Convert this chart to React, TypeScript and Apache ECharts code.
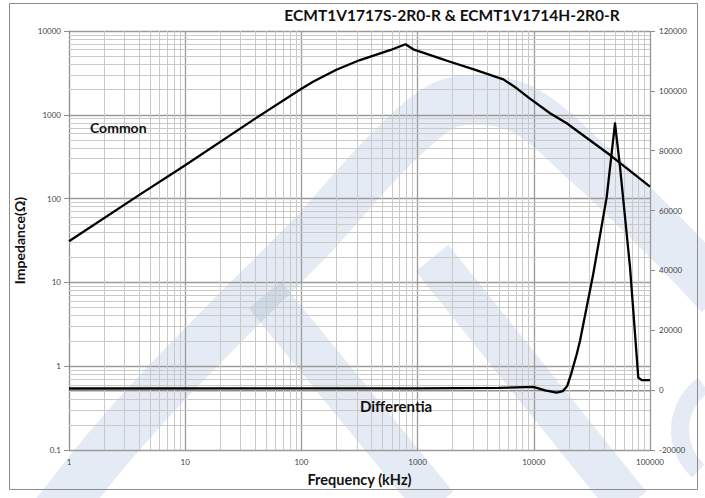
import React, { useEffect, useRef } from "react";
import * as echarts from "echarts";

// Frequency (kHz) and impedance
const commonFreq = [1, 4, 10, 40, 100, 127, 200, 319, 578, 787, 918, 1560, 1900, 3000, 5470, 7130, 9270, 13800, 19200, 45300, 100000];
const commonImp = [31, 110, 250, 900, 2050, 2500, 3450, 4500, 5900, 6940, 6050, 4720, 4300, 3500, 2650, 2070, 1560, 1042, 792, 331, 139];

const diffFreq = [1, 100, 1000, 5000, 9900, 12500, 15700, 17800, 19400, 21000, 23400, 25000, 28500, 32500, 42400, 50000, 55200, 67300, 79300, 84900, 100000];
const diffImp = [550, 560, 600, 750, 1100, -100, -800, -300, 1400, 5500, 12000, 16500, 27700, 38900, 64500, 89100, 74600, 41100, 4200, 3350, 3350];

const decadesX = [1, 10, 100, 1000, 10000];
const decadesY = [0.1, 1, 10, 100, 1000];
const minorSteps = [2, 3, 4, 5, 6, 7, 8, 9];

const title = "ECMT1V1717S-2R0-R & ECMT1V1714H-2R0-R";
const xName = "Frequency (kHz)";
const yName = "Impedance(Ω)";
const commonLabel = "Common";
const diffLabel = "Differentia";

const FONT = "Lato, 'Open Sans', sans-serif";
const WM = "rgba(70,110,180,0.14)";

const fmt = (v: number) => String(Number(v.toPrecision(6)));

export default function App() {
  const ref = useRef<HTMLDivElement>(null);
  useEffect(() => {
    if (!ref.current) return;
    const chart = echarts.init(ref.current, undefined, { renderer: "svg" });
    const minorX: any[] = [];
    decadesX.forEach((d) => minorSteps.forEach((m) => minorX.push({ xAxis: Number((d * m).toPrecision(6)) })));
    const minorY: any[] = [];
    decadesY.forEach((d) => minorSteps.forEach((m) => minorY.push({ yAxis: Number((d * m).toPrecision(6)) })));

    chart.setOption({
      animation: false,
      backgroundColor: "#ffffff",
      textStyle: { fontFamily: FONT },
      grid: { left: 69, right: 55, top: 31, bottom: 48 },
      graphic: [
        // faint watermark
        {
          type: "polyline",
          silent: true,
          z: -5,
          shape: {
            points: [[55, 515], [105, 452], [160, 390], [230, 318], [310, 238], [390, 150], [450, 103], [520, 108], [590, 165], [660, 232], [720, 295]],
            smooth: 0.3,
          },
          style: { fill: "none", stroke: WM, lineWidth: 50, lineCap: "butt", lineJoin: "round" },
        },
        {
          type: "line",
          silent: true,
          z: -5,
          shape: { x1: 265, y1: 295, x2: 437, y2: 505 },
          style: { stroke: WM, lineWidth: 42 },
        },
        {
          type: "line",
          silent: true,
          z: -5,
          shape: { x1: 432, y1: 258, x2: 630, y2: 505 },
          style: { stroke: WM, lineWidth: 42 },
        },
        {
          type: "arc",
          silent: true,
          z: -5,
          shape: { cx: 735, cy: 430, r: 55, startAngle: 2.3, endAngle: 4.1 },
          style: { fill: "none", stroke: WM, lineWidth: 18 },
        },
        {
          type: "rect",
          shape: { x: 9.5, y: 3.5, width: 688, height: 486 },
          style: { fill: "none", stroke: "#8c8c8c", lineWidth: 1 },
          z: -4,
          silent: true,
        },
        {
          type: "text",
          x: 452,
          y: 15,
          style: {
            text: title,
            font: `bold 15.5px ${FONT}`,
            fill: "#111",
            align: "center",
            verticalAlign: "middle",
          },
        },
        {
          type: "text",
          x: 90,
          y: 127,
          style: { text: commonLabel, font: `bold 14px ${FONT}`, fill: "#111", verticalAlign: "middle" },
          z: 10,
        },
        {
          type: "text",
          x: 360,
          y: 406,
          style: { text: diffLabel, font: `bold 15px ${FONT}`, fill: "#111", verticalAlign: "middle" },
          z: 10,
        },
      ],
      xAxis: {
        type: "log",
        logBase: 10,
        min: 1,
        max: 100000,
        name: xName,
        nameLocation: "middle",
        nameGap: 22,
        nameTextStyle: { fontFamily: FONT, fontSize: 14.5, fontWeight: "bold", color: "#111" },
        axisLine: { show: true, lineStyle: { color: "#8c8c8c" } },
        axisTick: { show: true, inside: true, length: 4, lineStyle: { color: "#8c8c8c" } },
        axisLabel: { formatter: fmt, fontSize: 8, color: "#444", margin: 8 },
        splitLine: { show: true, lineStyle: { color: "#9a9a9a", width: 1.3 } },
      },
      yAxis: [
        {
          type: "log",
          logBase: 10,
          min: 0.1,
          max: 10000,
          name: yName,
          nameLocation: "middle",
          nameGap: 40,
          nameTextStyle: { fontFamily: FONT, fontSize: 14, fontWeight: "bold", color: "#111" },
          axisLine: { show: true, lineStyle: { color: "#8c8c8c" } },
          axisTick: { show: true, length: 5, lineStyle: { color: "#8c8c8c" } },
          axisLabel: { formatter: fmt, fontSize: 8, color: "#444", margin: 8 },
          splitLine: { show: true, lineStyle: { color: "#9a9a9a", width: 1.3 } },
        },
        {
          type: "value",
          min: -20000,
          max: 120000,
          interval: 20000,
          position: "right",
          axisLine: { show: false },
          axisTick: { show: true, length: 5, lineStyle: { color: "#8c8c8c" } },
          axisLabel: { formatter: fmt, fontSize: 8, color: "#444", margin: 9 },
          splitLine: { show: false },
        },
      ],
      series: [
        {
          name: "grid",
          type: "line",
          data: [],
          z: 1,
          silent: true,
          markLine: {
            z: 1,
            silent: true,
            symbol: "none",
            label: { show: false },
            lineStyle: { color: "#c9c9c9", width: 1, type: "solid" },
            data: [...minorX, ...minorY],
          },
        },
        {
          name: "Common",
          type: "line",
          yAxisIndex: 0,
          z: 6,
          symbol: "none",
          smooth: false,
          lineStyle: { color: "#000", width: 2.3, join: "round" },
          data: commonFreq.map((f, i) => [f, commonImp[i]]),
        },
        {
          name: "Differential",
          type: "line",
          yAxisIndex: 1,
          z: 6,
          symbol: "none",
          smooth: false,
          lineStyle: { color: "#000", width: 2.3, join: "round" },
          data: diffFreq.map((f, i) => [f, diffImp[i]]),
        },
      ],
    });
    return () => chart.dispose();
  }, []);
  return (
    <div
      ref={ref}
      style={{ position: "absolute", left: 0, top: 0, width: 705, height: 498, background: "#fff" }}
    />
  );
}
